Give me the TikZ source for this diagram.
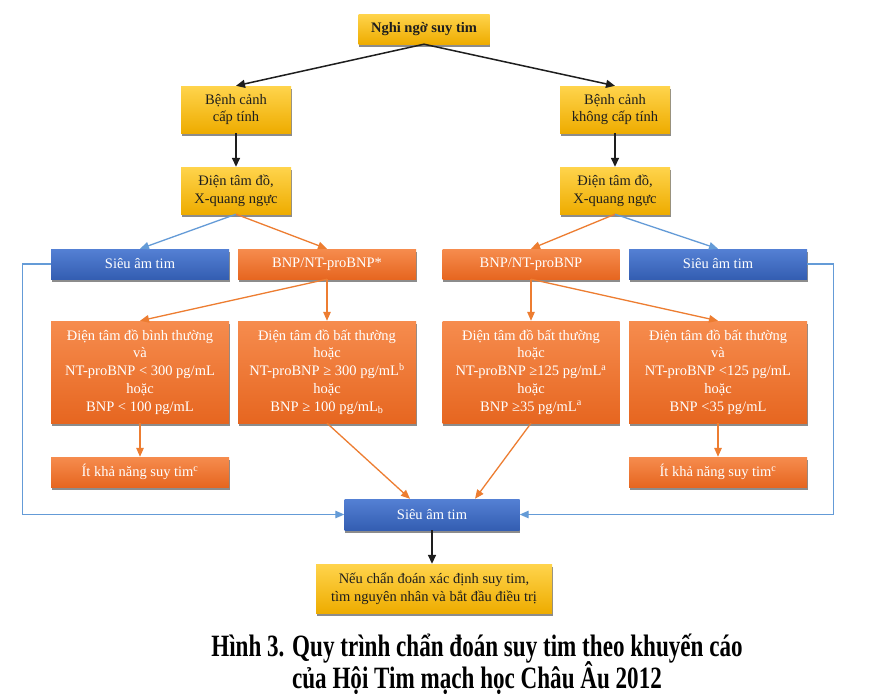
\documentclass[tikz,border=0pt]{standalone}
\usepackage{fontspec}
\setmainfont{Liberation Serif}
\newfontfamily\capfont[FakeStretch=0.745]{Liberation Serif}
\usetikzlibrary{arrows.meta,shadows}
\usepackage{xcolor}
\definecolor{hfgoldtop}{RGB}{255, 212, 76}
\definecolor{hfgoldbot}{RGB}{238, 172, 0}
\definecolor{hforangetop}{RGB}{246, 140, 78}
\definecolor{hforangebot}{RGB}{230, 102, 32}
\definecolor{hfbluetop}{RGB}{84, 128, 212}
\definecolor{hfbluebot}{RGB}{52, 94, 178}
\definecolor{hforange}{RGB}{237, 125, 49}
\definecolor{hfblue}{RGB}{100, 155, 215}
\definecolor{hftext}{RGB}{30, 30, 30}

\tikzset{
  hfbox/.style={rectangle, inner sep=0pt, align=center,
    font=\fontsize{14.5}{17.7}\selectfont,
    drop shadow={shadow xshift=0.5pt, shadow yshift=-2.5pt, fill=black!60, opacity=0.75}},
  goldbox/.style={hfbox, top color=hfgoldtop, bottom color=hfgoldbot, text=hftext},
  orangebox/.style={hfbox, top color=hforangetop, bottom color=hforangebot, text=white},
  bluebox/.style={hfbox, top color=hfbluetop, bottom color=hfbluebot, text=white},
  darkarrow/.style={-{Triangle[length=9pt,width=8pt]}, line width=1.5pt, hftext},
  orangearrow/.style={-{Triangle[length=9pt,width=7.5pt]}, line width=1.3pt, hforange},
  bluearrow/.style={-{Triangle[length=9pt,width=7.5pt]}, line width=1.3pt, hfblue}
}

\begin{document}
\begin{tikzpicture}[x=1pt, y=-1pt]
  \useasboundingbox[fill=white] (0,0) rectangle (870,694);

  % Suspicion and clinical setting
  \node[goldbox, minimum width=131pt, minimum height=30pt] (suspect) at (424,29) {\bfseries Nghi ngờ suy tim};
  \node[goldbox, minimum width=110pt, minimum height=47pt] (acute) at (236,109.5) {Bệnh cảnh\\cấp tính};
  \node[goldbox, minimum width=110pt, minimum height=47pt] (nonacute) at (615,109.5) {Bệnh cảnh\\không cấp tính};
  \node[goldbox, minimum width=110pt, minimum height=47pt] (ecgL) at (236,190.5) {Điện tâm đồ,\\X-quang ngực};
  \node[goldbox, minimum width=110pt, minimum height=47pt] (ecgR) at (615,190.5) {Điện tâm đồ,\\X-quang ngực};

  % Echo / peptide tests
  \node[bluebox, minimum width=178pt, minimum height=30pt] (echoL) at (140,264) {Siêu âm tim};
  \node[orangebox, minimum width=178pt, minimum height=30pt] (bnpL) at (327,264) {BNP/NT-proBNP*};
  \node[orangebox, minimum width=177pt, minimum height=30pt] (bnpR) at (531,264) {BNP/NT-proBNP};
  \node[bluebox, minimum width=178pt, minimum height=30pt] (echoR) at (718,264) {Siêu âm tim};

  % Results
  \node[orangebox, minimum width=178pt, minimum height=102pt] (normL) at (140,372)
    {Điện tâm đồ bình thường\\và\\NT-proBNP < 300 pg/mL\\hoặc\\BNP < 100 pg/mL};
  \node[orangebox, minimum width=178pt, minimum height=102pt] (abnL) at (327,372)
    {Điện tâm đồ bất thường\\hoặc\\NT-proBNP ≥ 300 pg/mL\textsuperscript{b}\\hoặc\\BNP ≥ 100 pg/mL\textsubscript{b}};
  \node[orangebox, minimum width=177pt, minimum height=102pt] (abnR) at (531,372)
    {Điện tâm đồ bất thường\\hoặc\\NT-proBNP ≥125 pg/mL\textsuperscript{a}\\hoặc\\BNP ≥35 pg/mL\textsuperscript{a}};
  \node[orangebox, minimum width=178pt, minimum height=102pt] (normR) at (718,372)
    {Điện tâm đồ bất thường\\và\\NT-proBNP <125 pg/mL\\hoặc\\BNP <35 pg/mL};
  \node[orangebox, minimum width=178pt, minimum height=30pt] (unlikelyL) at (140,472) {Ít khả năng suy tim\textsuperscript{c}};
  \node[orangebox, minimum width=178pt, minimum height=30pt] (unlikelyR) at (718,472) {Ít khả năng suy tim\textsuperscript{c}};

  % Final echo and treatment
  \node[bluebox, minimum width=175pt, minimum height=31pt] (echoB) at (432,514.5) {Siêu âm tim};
  \node[goldbox, minimum width=236pt, minimum height=49pt] (treat) at (434,588.5)
    {Nếu chẩn đoán xác định suy tim,\\tìm nguyên nhân và bắt đầu điều trị};

  % Arrows
  \draw[darkarrow] (suspect.south) -- (acute.north);
  \draw[darkarrow] (suspect.south) -- (nonacute.north);
  \draw[darkarrow] (acute.south) -- (ecgL.north);
  \draw[darkarrow] (nonacute.south) -- (ecgR.north);
  \draw[bluearrow] (ecgL.south) -- (echoL.north);
  \draw[orangearrow] (ecgL.south) -- (bnpL.north);
  \draw[orangearrow] (ecgR.south) -- (bnpR.north);
  \draw[bluearrow] (ecgR.south) -- (echoR.north);
  \draw[orangearrow] (bnpL.south) -- (normL.north);
  \draw[orangearrow] (bnpL.south) -- (abnL.north);
  \draw[orangearrow] (bnpR.south) -- (abnR.north);
  \draw[orangearrow] (bnpR.south) -- (normR.north);
  \draw[orangearrow] (normL.south) -- (unlikelyL.north);
  \draw[orangearrow] (normR.south) -- (unlikelyR.north);
  \draw[orangearrow] (abnL.south) -- ([xshift=-22pt]echoB.north);
  \draw[orangearrow] (abnR.south) -- ([xshift=43pt]echoB.north);
  \draw[bluearrow] (echoL.west) -- ([xshift=-28pt]echoL.west) |- (echoB.west);
  \draw[bluearrow] (echoR.east) -- ([xshift=26pt]echoR.east) |- (echoB.east);
  \draw[darkarrow] (echoB.south) -- (echoB.south |- treat.north);

  % Caption
  \node[anchor=base, inner sep=0pt, font=\capfont\bfseries\fontsize{31}{32}\selectfont] (cap1) at (477,656)
    {Hình 3. Quy trình chẩn đoán suy tim theo khuyến cáo};
  \node[anchor=base, inner sep=0pt, font=\capfont\bfseries\fontsize{31}{32}\selectfont] (cap2) at (477,688)
    {của Hội Tim mạch học Châu Âu 2012};
\end{tikzpicture}
\end{document}
